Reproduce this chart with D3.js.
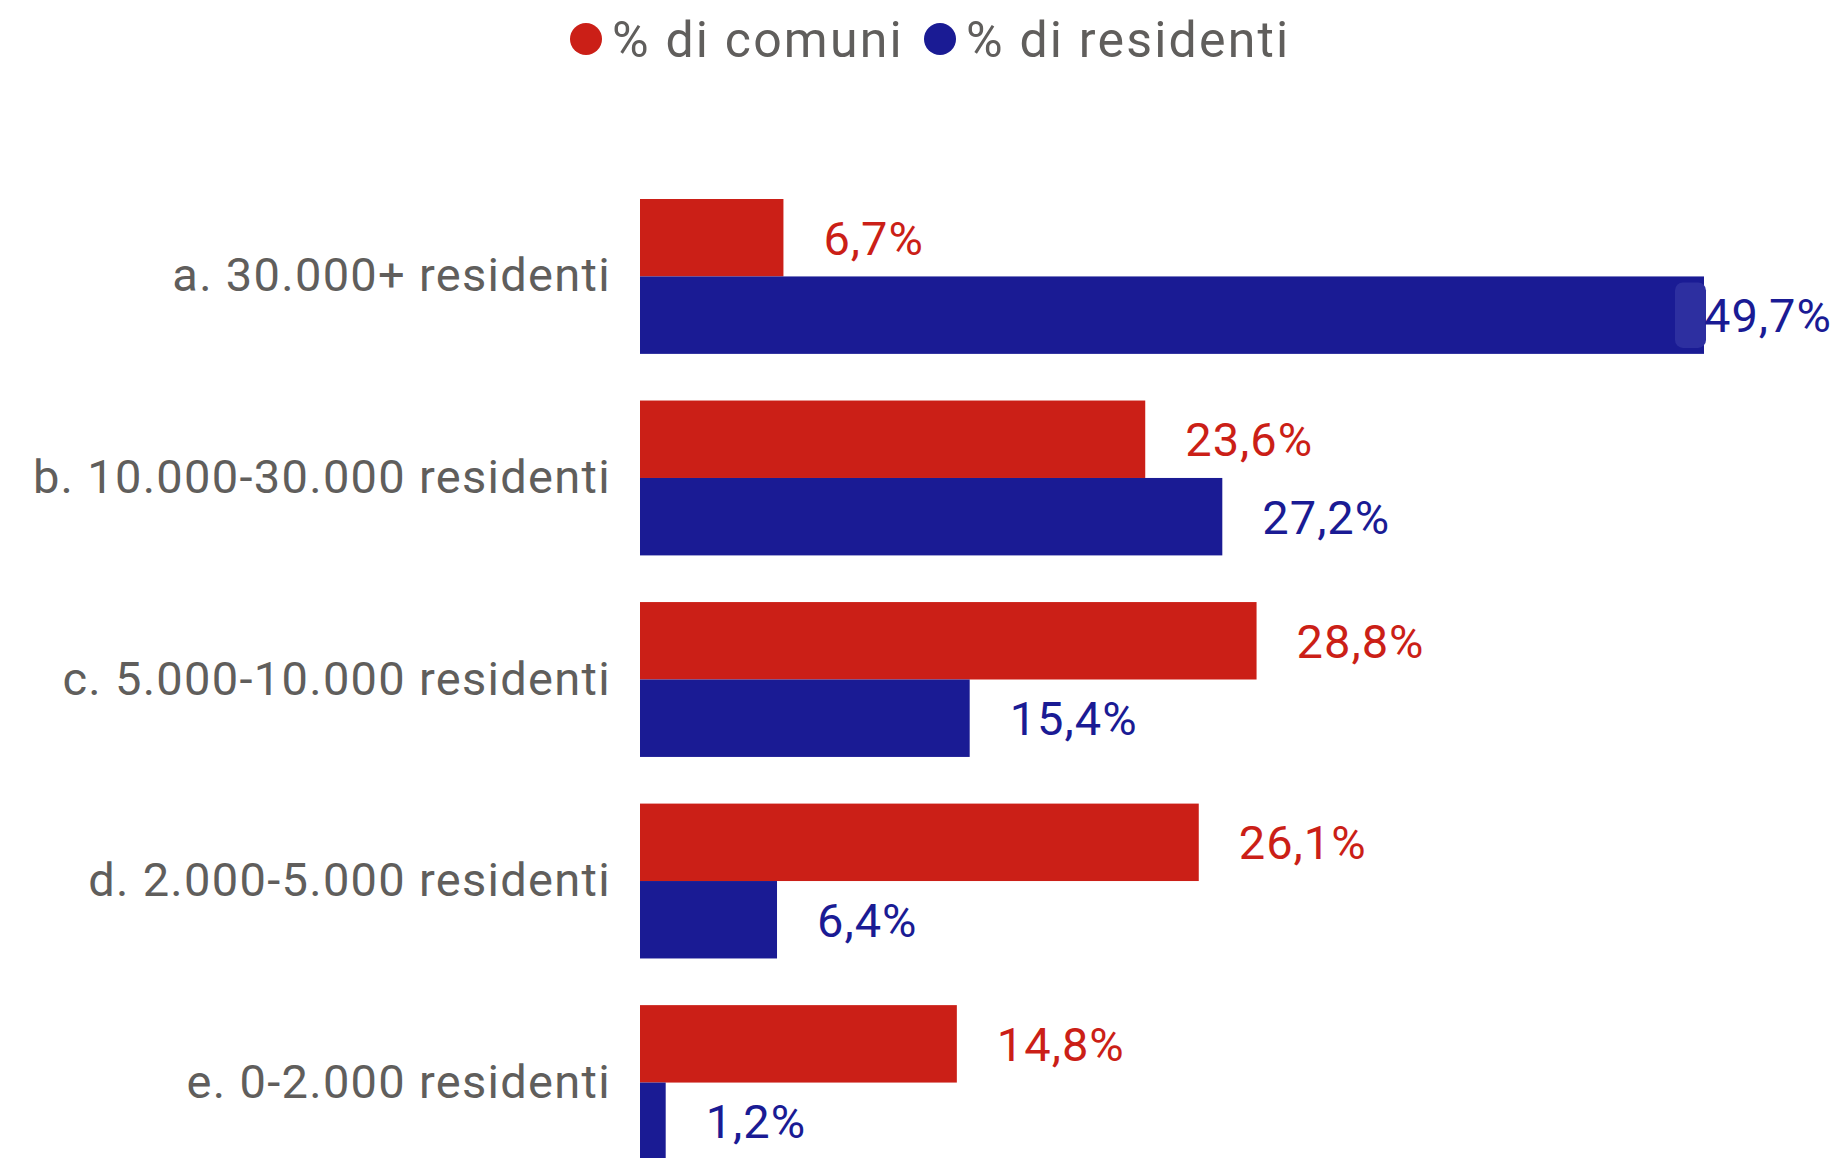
<html>
<head>
<meta charset="utf-8">
<script src="https://cdn.jsdelivr.net/npm/d3@7"></script>
<style>
body {margin: 0; background: #fff;}
text {font-family: Roboto, "Noto Sans", sans-serif;}
</style>
</head>
<body>
<svg id="chart" width="1839" height="1158"></svg>
<script>
// data
var categories = ["a. 30.000+ residenti", "b. 10.000-30.000 residenti", "c. 5.000-10.000 residenti", "d. 2.000-5.000 residenti", "e. 0-2.000 residenti"];
var seriesNames = ["% di comuni", "% di residenti"];
var pctComuni = [6.7, 23.6, 28.8, 26.1, 14.8];
var pctResidenti = [49.7, 27.2, 15.4, 6.4, 1.2];
var colors = ["#CB1F17", "#1A1B94"];

var width = 1839, height = 1158;
var left = 640, right = 1704;
var fontSize = 47;

var svg = d3.select("#chart");

var rows = categories.map(function(c, i) {
    return {cat: c, values: [pctComuni[i], pctResidenti[i]]};
});

//scales
var x = d3.scaleLinear().domain([0, d3.max(pctResidenti.concat(pctComuni))]).range([left, right]);
var y = d3.scaleBand().domain(categories).range([199, 1160]).paddingInner(0.2315).paddingOuter(0);
var ySub = d3.scaleBand().domain([0, 1]).range([0, y.bandwidth()]);

//category axis
var axis = svg.append("g")
    .attr("transform", "translate(" + left + ",0)")
    .call(d3.axisLeft(y).tickSize(0).tickPadding(29));
axis.select(".domain").remove();
axis.selectAll("text")
    .style("font-size", fontSize + "px")
    .style("font-family", "Roboto, 'Noto Sans', sans-serif")
    .style("letter-spacing", "1.3px")
    .attr("fill", "#605E5C");

//bars
var groups = svg.append("g").selectAll("g")
    .data(rows)
    .enter()
    .append("g")
    .attr("transform", function(d) {return "translate(0," + y(d.cat) + ")";});

groups.selectAll("rect")
    .data(function(d) {return d.values.map(function(v, j) {return {v: v, s: j};});})
    .enter()
    .append("rect")
    .attr("x", x(0))
    .attr("y", function(d) {return ySub(d.s);})
    .attr("width", function(d) {return x(d.v) - x(0);})
    .attr("height", ySub.bandwidth())
    .attr("fill", function(d) {return colors[d.s];});

//value labels
groups.each(function(row) {
    var g = d3.select(this);
    row.values.forEach(function(v, j) {
        var t = g.append("text")
            .attr("x", x(v) + 40)
            .attr("y", ySub(j) + ySub.bandwidth() / 2)
            .attr("dy", "0.36em")
            .attr("fill", colors[j])
            .style("font-size", fontSize + "px")
            .style("letter-spacing", "1px")
            .text(d3.format(".1f")(v).replace(".", ",") + "%");
        var w = t.node().getComputedTextLength();
        if (x(v) + 40 + w > width) {
            // label does not fit outside: sits on the bar end with a background
            g.insert("rect", "text")
                .attr("x", x(v) - 29)
                .attr("y", ySub(j) + 6)
                .attr("width", 31)
                .attr("height", ySub.bandwidth() - 12)
                .attr("rx", 8)
                .attr("fill", "#2D2FA0");
            t.attr("x", x(v));
        }
    });
});

//legend
var legend = svg.append("g");
var lx = [586, 940];
seriesNames.forEach(function(name, i) {
    legend.append("circle")
        .attr("cx", lx[i]).attr("cy", 39).attr("r", 16)
        .attr("fill", colors[i]);
    legend.append("text")
        .attr("x", lx[i] + 26).attr("y", 39).attr("dy", "0.36em")
        .attr("fill", "#605E5C")
        .style("font-size", "50px")
        .style("letter-spacing", "2.2px")
        .text(name);
});
</script>
</body>
</html>
